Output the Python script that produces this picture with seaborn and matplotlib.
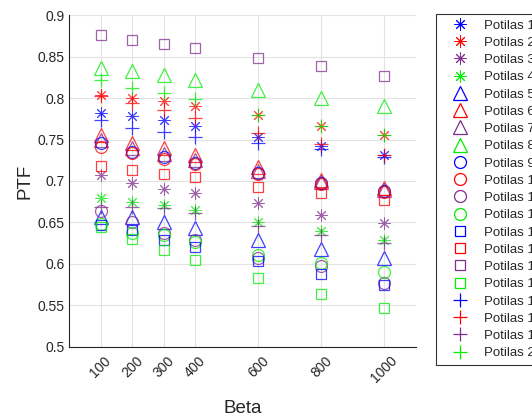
import matplotlib
matplotlib.use("Agg")
import matplotlib.pyplot as plt
import seaborn as sns
import pandas as pd

# Beta values on the x axis
beta = [100, 200, 300, 400, 600, 800, 1000]
beta_ticks = [100, 200, 300, 400, 600, 800, 1000]
ptf_ticks = [0.5, 0.55, 0.6, 0.65, 0.7, 0.75, 0.8, 0.85, 0.9]

# PTF per patient
potilas_1 = [0.782, 0.778, 0.774, 0.766, 0.753, 0.742, 0.731]
potilas_2 = [0.804, 0.800, 0.796, 0.790, 0.779, 0.766, 0.755]
potilas_3 = [0.707, 0.698, 0.690, 0.686, 0.673, 0.659, 0.649]
potilas_4 = [0.680, 0.675, 0.671, 0.665, 0.651, 0.640, 0.629]
potilas_5 = [0.657, 0.657, 0.651, 0.643, 0.629, 0.618, 0.607]
potilas_6 = [0.756, 0.746, 0.740, 0.731, 0.717, 0.701, 0.692]
potilas_7 = [0.750, 0.740, 0.733, 0.725, 0.712, 0.699, 0.689]
potilas_8 = [0.836, 0.833, 0.828, 0.822, 0.810, 0.800, 0.790]
potilas_9 = [0.746, 0.735, 0.729, 0.722, 0.710, 0.697, 0.688]
potilas_10 = [0.741, 0.734, 0.727, 0.720, 0.708, 0.696, 0.687]
potilas_11 = [0.664, 0.650, 0.637, 0.629, 0.607, 0.598, 0.577]
potilas_12 = [0.648, 0.637, 0.635, 0.627, 0.611, 0.601, 0.590]
potilas_13 = [0.647, 0.641, 0.629, 0.620, 0.604, 0.588, 0.575]
potilas_14 = [0.718, 0.713, 0.708, 0.705, 0.693, 0.685, 0.677]
potilas_15 = [0.876, 0.870, 0.865, 0.860, 0.848, 0.838, 0.827]
potilas_16 = [0.645, 0.630, 0.617, 0.605, 0.583, 0.564, 0.547]
potilas_17 = [0.773, 0.764, 0.759, 0.753, 0.746, 0.738, 0.729]
potilas_18 = [0.803, 0.794, 0.786, 0.776, 0.758, 0.744, 0.731]
potilas_19 = [0.669, 0.669, 0.667, 0.661, 0.646, 0.635, 0.625]
potilas_20 = [0.822, 0.812, 0.806, 0.799, 0.779, 0.766, 0.755]

series = [potilas_1, potilas_2, potilas_3, potilas_4, potilas_5,
          potilas_6, potilas_7, potilas_8, potilas_9, potilas_10,
          potilas_11, potilas_12, potilas_13, potilas_14, potilas_15,
          potilas_16, potilas_17, potilas_18, potilas_19, potilas_20]
names = [f"Potilas {i}" for i in range(1, 21)]

colors = ["#0000ff", "#ff0000", "#7e2f8e", "#00ee00"]
markers = [(8, 2, 0), "^", "o", "s", "+"]
msizes = [8.6, 10, 8.6, 7.2, 10]
mwidths = [0.7, 0.9, 0.9, 0.9, 0.9]

rows = []
for name, vals in zip(names, series):
    for b, v in zip(beta, vals):
        rows.append({"Potilas": name, "Beta": b, "PTF": v})
df = pd.DataFrame(rows)

sns.set_style("white")
plt.rcParams["font.family"] = ["Liberation Sans", "DejaVu Sans"]

fig = plt.figure(figsize=(5.32, 4.18), dpi=100)
ax = fig.add_axes([0.130, 0.170, 0.652, 0.794])

for i, name in enumerate(names):
    c = colors[i % 4]
    k = i // 4
    sub = df[df["Potilas"] == name]
    sns.lineplot(data=sub, x="Beta", y="PTF", ax=ax, errorbar=None,
                 linestyle="none", marker=markers[k], markersize=msizes[k],
                 markerfacecolor="none", markeredgecolor=c,
                 markeredgewidth=mwidths[k], color=c, label=name, alpha=0.75)

ax.set_xlim(0, 1100)
ax.set_ylim(0.5, 0.9)
ax.set_xticks(beta_ticks)
ax.set_xticklabels([str(t) for t in beta_ticks], rotation=45, ha="center")
ax.set_yticks(ptf_ticks)
ax.set_yticklabels([f"{t:g}" for t in ptf_ticks])
ax.tick_params(axis="both", direction="in", length=3, labelsize=10,
               colors="#262626", width=0.6)
ax.tick_params(axis="x", pad=5)
ax.grid(True, color="#e3e3e3", linewidth=0.8)
ax.set_axisbelow(True)
for side in ["top", "right"]:
    ax.spines[side].set_visible(False)
for side in ["left", "bottom"]:
    ax.spines[side].set_color("#262626")
    ax.spines[side].set_linewidth(0.8)

ax.set_xlabel("Beta", fontsize=13.5, color="#262626", labelpad=10)
ax.set_ylabel("PTF", fontsize=13.5, color="#262626", labelpad=3)

handles, labels = ax.get_legend_handles_labels()
leg = ax.legend(handles, labels, loc="upper left",
                bbox_to_anchor=(436 / 532, 1 - 14 / 418),
                bbox_transform=fig.transFigure, borderaxespad=0,
                frameon=True, fancybox=False, fontsize=9.5,
                labelspacing=0.38, handlelength=2.8, handletextpad=0.45,
                borderpad=0.4)
leg.get_frame().set_edgecolor("black")
leg.get_frame().set_linewidth(0.8)
for t in leg.get_texts():
    t.set_color("#262626")
for h in leg.legend_handles:
    h.set_alpha(1.0)

fig.savefig("out.png", dpi=100)
